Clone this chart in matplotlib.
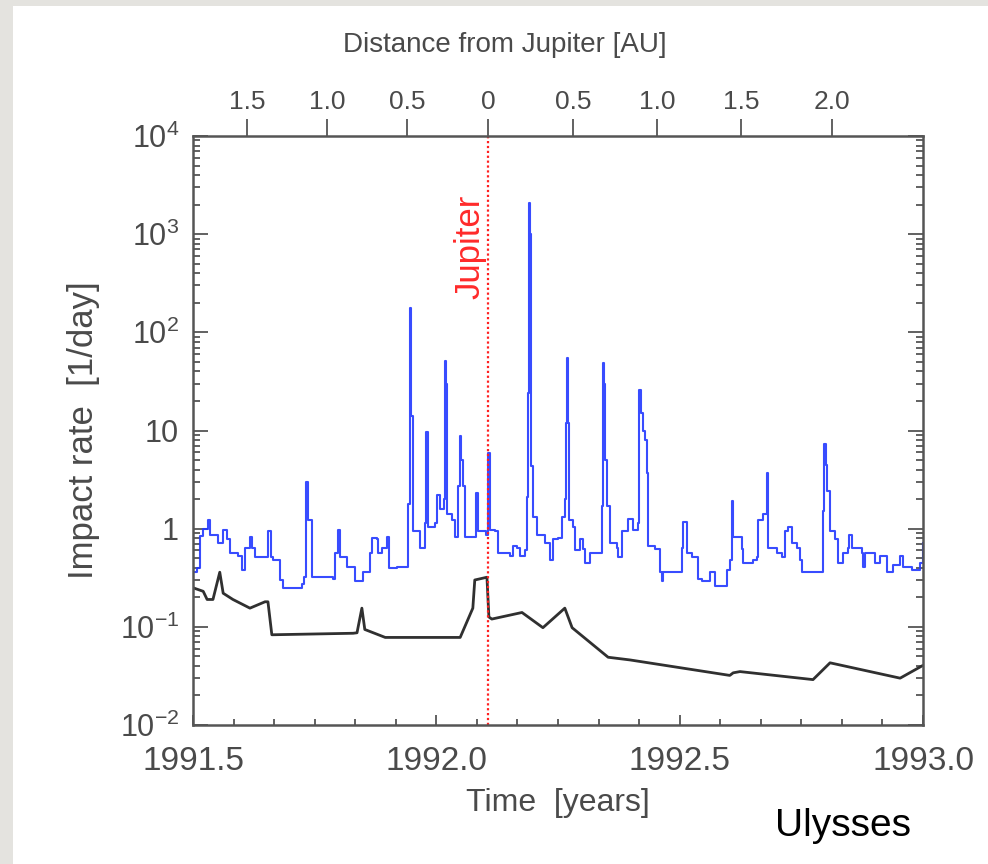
import numpy as np
import matplotlib.pyplot as plt
from matplotlib.patches import Rectangle
from matplotlib.ticker import FixedLocator, LogLocator, NullFormatter

## Data
# blue: impact rate [1/day] vs time [years]
blue_t = [1991.500, 1991.508, 1991.514, 1991.521, 1991.531, 1991.535, 1991.551, 1991.562,
          1991.570, 1991.576, 1991.592, 1991.601, 1991.607, 1991.617, 1991.621, 1991.627,
          1991.652, 1991.654, 1991.660, 1991.664, 1991.679, 1991.685, 1991.724, 1991.728,
          1991.732, 1991.736, 1991.745, 1991.788, 1991.792, 1991.798, 1991.802, 1991.816,
          1991.833, 1991.849, 1991.864, 1991.868, 1991.878, 1991.880, 1991.888, 1991.899,
          1991.903, 1991.919, 1991.940, 1991.942, 1991.946, 1991.948, 1991.952, 1991.966,
          1991.977, 1991.979, 1991.983, 1991.997, 1992.001, 1992.008, 1992.016, 1992.018,
          1992.020, 1992.022, 1992.032, 1992.038, 1992.045, 1992.049, 1992.051, 1992.055,
          1992.059, 1992.075, 1992.082, 1992.086, 1992.102, 1992.106, 1992.110, 1992.121,
          1992.127, 1992.151, 1992.158, 1992.166, 1992.172, 1992.182, 1992.186, 1992.188,
          1992.190, 1992.192, 1992.194, 1992.199, 1992.207, 1992.217, 1992.223, 1992.234,
          1992.240, 1992.250, 1992.258, 1992.264, 1992.266, 1992.268, 1992.271, 1992.273,
          1992.281, 1992.285, 1992.295, 1992.301, 1992.305, 1992.316, 1992.332, 1992.340,
          1992.342, 1992.345, 1992.347, 1992.351, 1992.357, 1992.371, 1992.373, 1992.381,
          1992.394, 1992.404, 1992.414, 1992.416, 1992.421, 1992.425, 1992.429, 1992.433,
          1992.435, 1992.449, 1992.460, 1992.464, 1992.466, 1992.497, 1992.505, 1992.507,
          1992.515, 1992.525, 1992.538, 1992.546, 1992.562, 1992.573, 1992.597, 1992.603,
          1992.607, 1992.610, 1992.628, 1992.630, 1992.651, 1992.659, 1992.661, 1992.671,
          1992.679, 1992.681, 1992.700, 1992.710, 1992.716, 1992.723, 1992.731, 1992.741,
          1992.747, 1992.751, 1992.788, 1992.794, 1992.797, 1992.801, 1992.803, 1992.809,
          1992.819, 1992.825, 1992.836, 1992.846, 1992.848, 1992.854, 1992.875, 1992.877,
          1992.881, 1992.897, 1992.901, 1992.912, 1992.926, 1992.938, 1992.953, 1992.959,
          1992.967, 1992.977, 1992.994, 1993.000]
blue_rate = [0.36, 0.40, 0.85, 1.0, 1.23, 0.87, 0.72, 0.98,
             0.79, 0.56, 0.53, 0.38, 0.63, 0.82, 0.63, 0.52,
             0.52, 0.95, 0.52, 0.48, 0.30, 0.25, 0.27, 0.32,
             3.0, 1.23, 0.32, 0.31, 0.56, 0.98, 0.52, 0.41,
             0.29, 0.36, 0.57, 0.80, 0.78, 0.56, 0.63, 0.82,
             0.40, 0.41, 0.41, 1.8, 178, 14, 0.94, 0.63,
             1.13, 9.7, 1.05, 1.13, 2.2, 1.6, 2.0, 51,
             30, 1.4, 1.23, 0.82, 2.7, 8.8, 5.0, 2.7,
             0.82, 0.82, 2.3, 0.94, 0.87, 5.9, 0.98, 0.95,
             0.56, 0.53, 0.66, 0.63, 0.53, 0.60, 2.1, 24,
             2100, 1000, 4.3, 1.3, 0.87, 0.87, 0.72, 0.48,
             0.78, 0.80, 1.3, 2.0, 12, 55, 12, 1.23,
             1.05, 0.60, 0.78, 0.62, 0.45, 0.56, 0.57, 1.7,
             49, 30, 5.0, 1.7, 0.72, 0.63, 0.52, 0.94,
             1.26, 0.98, 1.13, 26, 15, 10, 8.0, 3.7,
             0.66, 0.62, 0.36, 0.29, 0.36, 0.36, 0.63, 1.18,
             0.56, 0.52, 0.31, 0.29, 0.36, 0.26, 0.38, 0.48,
             1.9, 0.82, 0.62, 0.45, 0.48, 0.52, 1.23, 1.4,
             3.7, 0.63, 0.56, 0.52, 0.94, 1.05, 0.72, 0.63,
             0.48, 0.36, 0.36, 1.5, 7.3, 4.5, 2.4, 0.94,
             0.78, 0.45, 0.56, 0.63, 0.87, 0.63, 0.56, 0.41,
             0.56, 0.56, 0.45, 0.53, 0.36, 0.43, 0.53, 0.41,
             0.41, 0.38, 0.45, 0.72]

# black: lower curve
black_t = [1991.500, 1991.521, 1991.529, 1991.541, 1991.555, 1991.562, 1991.582, 1991.617,
           1991.648, 1991.654, 1991.662, 1991.829, 1991.837, 1991.847, 1991.853, 1991.895,
           1992.049, 1992.075, 1992.079, 1992.104, 1992.108, 1992.114, 1992.176, 1992.219,
           1992.264, 1992.279, 1992.353, 1992.398, 1992.603, 1992.610, 1992.624, 1992.774,
           1992.809, 1992.953, 1992.998]
black_rate = [0.25, 0.23, 0.19, 0.19, 0.36, 0.22, 0.19, 0.155,
              0.18, 0.18, 0.083, 0.086, 0.087, 0.155, 0.094, 0.078,
              0.078, 0.155, 0.30, 0.32, 0.126, 0.12, 0.14, 0.098,
              0.155, 0.098, 0.049, 0.046, 0.032, 0.034, 0.035, 0.029,
              0.043, 0.030, 0.040]

jupiter_t = 1992.106

# top axis: distance from Jupiter
dist_t = [1991.611, 1991.775, 1991.940, 1992.106, 1992.281, 1992.453, 1992.626, 1992.813]
dist_labels = ['1.5', '1.0', '0.5', '0', '0.5', '1.0', '1.5', '2.0']

year_ticks = [1991.5, 1992.0, 1992.5, 1993.0]
year_labels = ['1991.5', '1992.0', '1992.5', '1993.0']
ytick_vals = [1e-2, 1e-1, 1, 10, 1e2, 1e3, 1e4]
ytick_labels = ['$10^{-2}$', '$10^{-1}$', '1', '10', '$10^{2}$', '$10^{3}$', '$10^{4}$']

## Style
plt.rcParams['font.family'] = ['Liberation Sans', 'DejaVu Sans']
plt.rcParams['mathtext.fontset'] = 'custom'
plt.rcParams['mathtext.rm'] = 'Liberation Sans'
plt.rcParams['mathtext.it'] = 'Liberation Sans'
txt = '#4a4a4a'
spine_c = '#555555'

fig = plt.figure(figsize=(9.88, 8.64), dpi=100, facecolor='#e4e3df')
# white slide panel, behind the axes
fig.patches.append(Rectangle((13 / 988, 0), 1, 1 - 6 / 864, transform=fig.transFigure,
                             facecolor='white', edgecolor='none', zorder=-10))

ax = fig.add_axes([193 / 988, 1 - 725 / 864, 730 / 988, 589 / 864])
ax.set_yscale('log')
ax.set_xlim(1991.5, 1993.0)
ax.set_ylim(1e-2, 1e4)

ax.plot(blue_t, blue_rate, color='#2238ff', lw=1.5, alpha=0.9, drawstyle='steps-post')
ax.plot(black_t, black_rate, color='#303030', lw=2.0)
ax.axvline(jupiter_t, color='#ff2020', lw=1.6, ls=(0, (1, 1.2)))
ax.text(jupiter_t - 0.037, 750, 'Jupiter', color='#ff2a2a', rotation=90,
        ha='center', va='center', fontsize=25)

# ticks
ax.set_xticks(year_ticks)
ax.set_xticklabels(year_labels)
ax.xaxis.set_minor_locator(FixedLocator(np.arange(1991.5, 1993.0, 1 / 12)))
ax.set_yticks(ytick_vals)
ax.set_yticklabels(ytick_labels)
ax.yaxis.set_minor_locator(LogLocator(base=10, subs=np.arange(2, 10)))
ax.yaxis.set_minor_formatter(NullFormatter())
ax.tick_params(axis='x', which='major', direction='in', length=7, width=1.3,
               top=True, bottom=True, color=spine_c, labelsize=24, labelcolor=txt, pad=15)
ax.tick_params(axis='x', which='minor', direction='in', length=4.5, width=1.3,
               top=True, bottom=True, color=spine_c)
ax.tick_params(axis='y', which='major', direction='in', length=11, width=1.3,
               left=True, right=True, color=spine_c, labelsize=22, labelcolor=txt, pad=10)
ax.tick_params(axis='y', which='minor', direction='in', length=5, width=1.3,
               left=True, right=True, color=spine_c)
for s in ax.spines.values():
    s.set_color(spine_c)
    s.set_linewidth(1.8)

ax.set_xlabel('Time  [years]', fontsize=23, color=txt, labelpad=8)
ax.set_ylabel('Impact rate  [1/day]', fontsize=25, color=txt, labelpad=14)

# top axis
ax2 = ax.twiny()
ax2.set_xlim(ax.get_xlim())
ax2.set_xticks(dist_t)
ax2.set_xticklabels(dist_labels)
ax2.tick_params(axis='x', which='major', direction='out', length=12, width=1.3,
                color=spine_c, labelsize=19, labelcolor=txt, pad=4)
ax2.set_xlabel('Distance from Jupiter [AU]', fontsize=20, color=txt)
ax2.xaxis.set_label_coords((505 - 193) / 730, 1 + (136 - 45) / 589)
ax2.xaxis.label.set_va('center')
for s in ax2.spines.values():
    s.set_visible(False)

fig.text(843 / 988, 1 - 826 / 864, 'Ulysses', fontsize=28, color='black',
         ha='center', va='center')

fig.savefig('out.png', dpi=100, facecolor=fig.get_facecolor())
